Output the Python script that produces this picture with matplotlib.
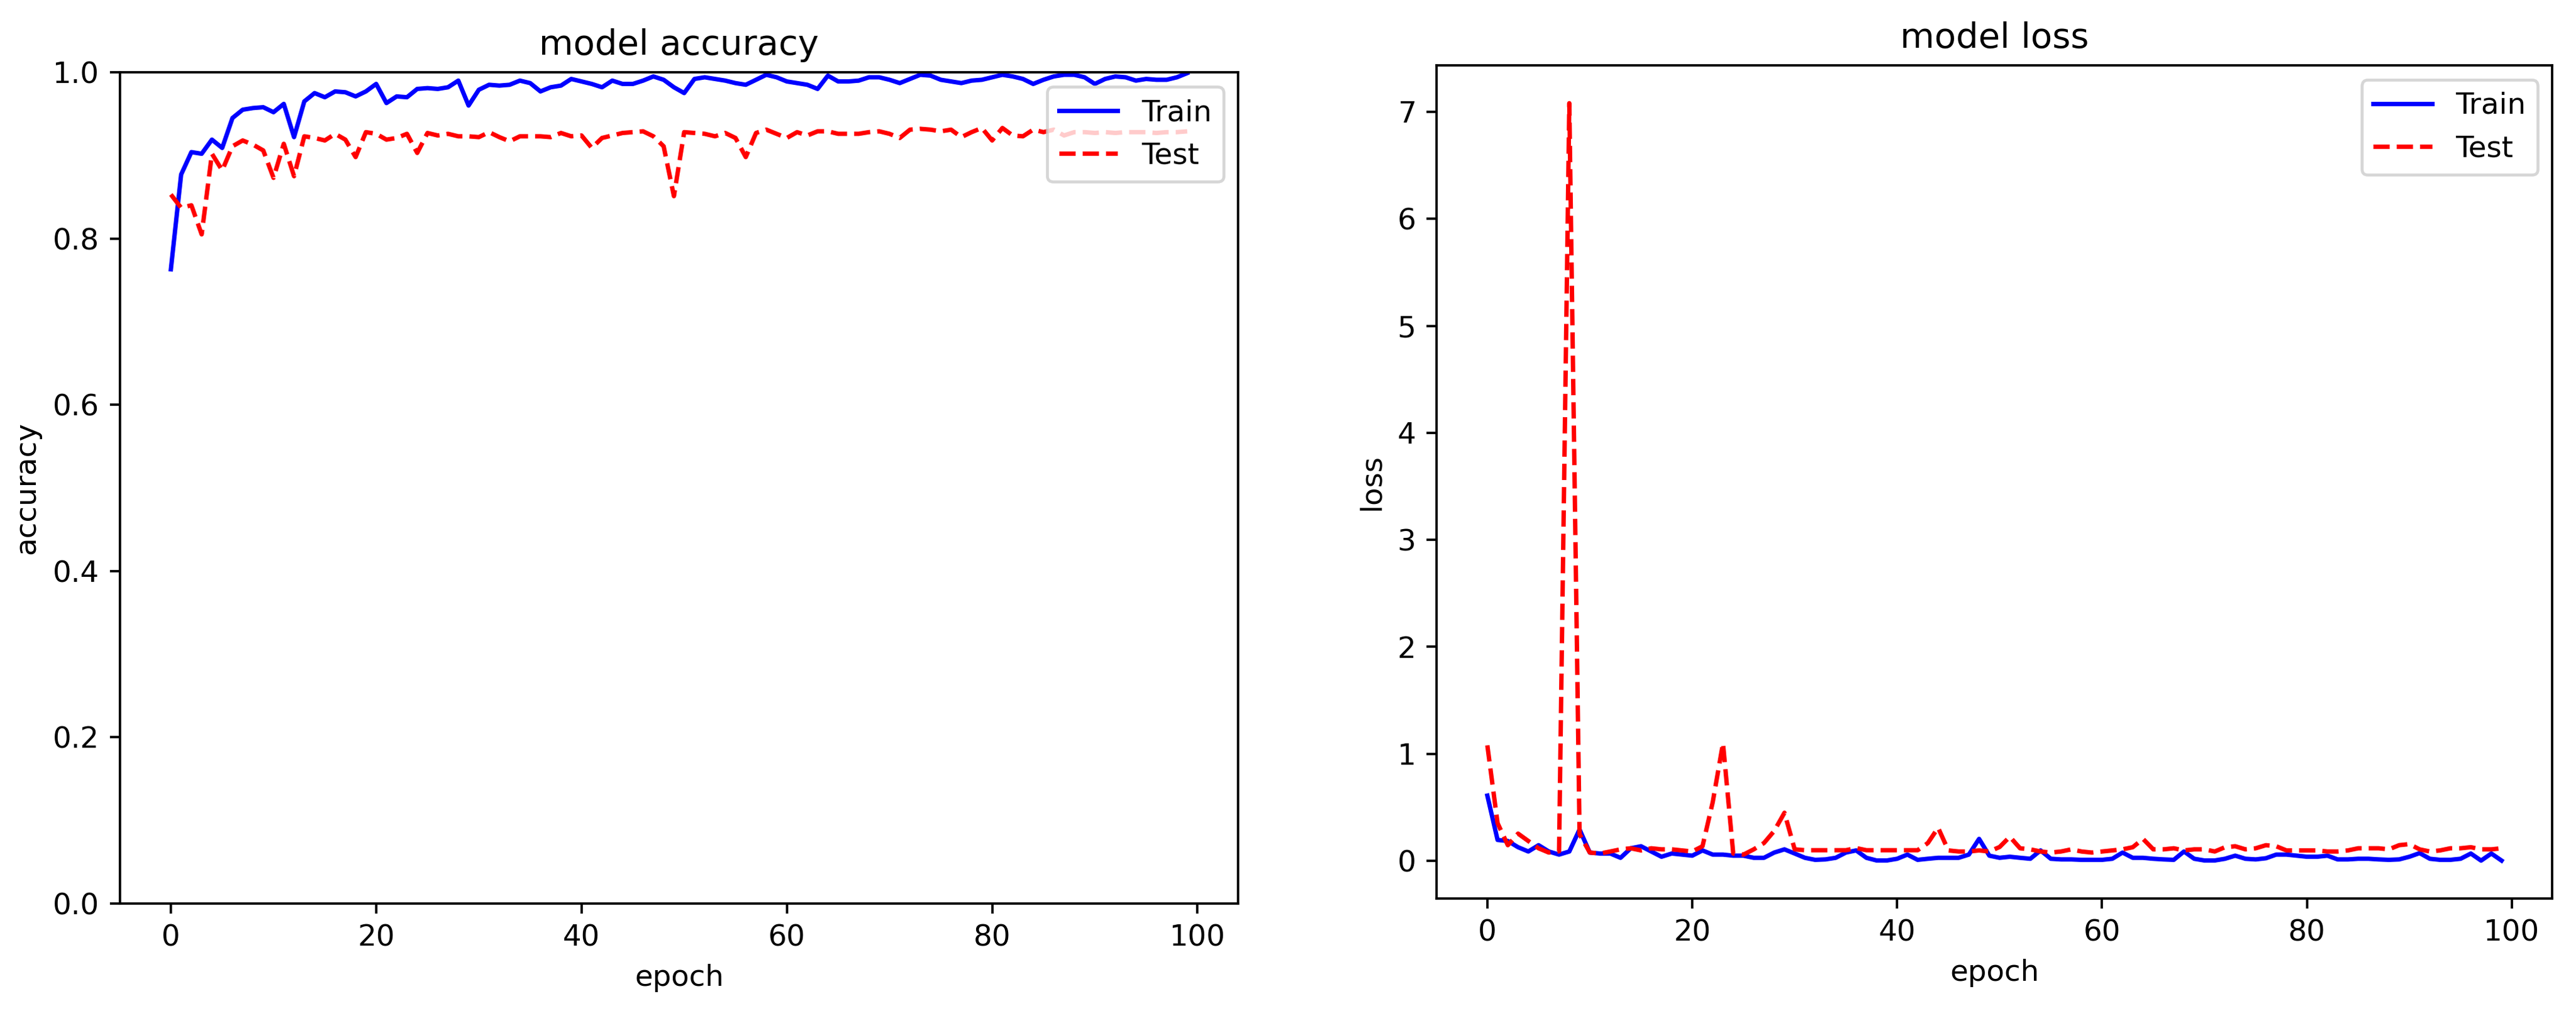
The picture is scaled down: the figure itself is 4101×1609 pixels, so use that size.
import matplotlib
matplotlib.use('Agg')
import matplotlib.pyplot as plt

# training history (100 epochs)
epochs = list(range(100))

train_acc = [0.763, 0.877, 0.904, 0.902, 0.919, 0.909, 0.945, 0.955, 0.957, 0.958,
             0.952, 0.962, 0.922, 0.965, 0.975, 0.970, 0.977, 0.976, 0.971, 0.977,
             0.986, 0.963, 0.971, 0.970, 0.980, 0.981, 0.980, 0.982, 0.990, 0.960,
             0.979, 0.985, 0.984, 0.985, 0.990, 0.987, 0.977, 0.982, 0.984, 0.992,
             0.989, 0.986, 0.982, 0.990, 0.986, 0.986, 0.990, 0.995, 0.991, 0.982,
             0.975, 0.992, 0.994, 0.992, 0.990, 0.987, 0.985, 0.991, 0.997, 0.994,
             0.989, 0.987, 0.985, 0.980, 0.996, 0.989, 0.989, 0.990, 0.994, 0.994,
             0.991, 0.987, 0.992, 0.997, 0.996, 0.991, 0.989, 0.987, 0.990, 0.991,
             0.994, 0.997, 0.995, 0.992, 0.986, 0.991, 0.995, 0.997, 0.997, 0.994,
             0.986, 0.992, 0.995, 0.994, 0.990, 0.992, 0.991, 0.991, 0.994, 0.999]

test_acc = [0.853, 0.837, 0.840, 0.805, 0.902, 0.882, 0.911, 0.918, 0.913, 0.906,
            0.873, 0.914, 0.875, 0.923, 0.921, 0.918, 0.926, 0.919, 0.898, 0.928,
            0.926, 0.919, 0.921, 0.926, 0.903, 0.927, 0.924, 0.926, 0.923, 0.923,
            0.922, 0.928, 0.922, 0.917, 0.923, 0.923, 0.923, 0.922, 0.927, 0.923,
            0.924, 0.909, 0.921, 0.924, 0.927, 0.928, 0.929, 0.923, 0.911, 0.851,
            0.928, 0.927, 0.926, 0.923, 0.927, 0.921, 0.898, 0.927, 0.931, 0.926,
            0.921, 0.928, 0.924, 0.929, 0.929, 0.926, 0.926, 0.926, 0.928, 0.929,
            0.926, 0.921, 0.931, 0.932, 0.931, 0.929, 0.931, 0.922, 0.928, 0.933,
            0.918, 0.933, 0.924, 0.923, 0.931, 0.928, 0.931, 0.924, 0.928, 0.928,
            0.927, 0.928, 0.927, 0.928, 0.928, 0.928, 0.927, 0.928, 0.928, 0.929]

train_loss = [0.610, 0.196, 0.186, 0.128, 0.088, 0.147, 0.088, 0.059, 0.088, 0.294,
              0.078, 0.069, 0.069, 0.029, 0.118, 0.137, 0.088, 0.039, 0.069, 0.059,
              0.049, 0.098, 0.059, 0.059, 0.049, 0.049, 0.029, 0.029, 0.078, 0.108,
              0.069, 0.029, 0.010, 0.014, 0.029, 0.078, 0.098, 0.029, 0.004, 0.004,
              0.020, 0.059, 0.010, 0.020, 0.029, 0.029, 0.029, 0.059, 0.206, 0.049,
              0.029, 0.039, 0.029, 0.020, 0.098, 0.020, 0.014, 0.014, 0.010, 0.010,
              0.010, 0.020, 0.078, 0.029, 0.029, 0.020, 0.014, 0.010, 0.088, 0.020,
              0.004, 0.004, 0.020, 0.049, 0.020, 0.014, 0.025, 0.059, 0.059, 0.049,
              0.039, 0.039, 0.049, 0.014, 0.014, 0.020, 0.020, 0.014, 0.010, 0.014,
              0.039, 0.073, 0.020, 0.010, 0.010, 0.020, 0.069, 0.003, 0.069, 0.003]

test_loss = [1.080, 0.353, 0.147, 0.255, 0.186, 0.118, 0.078, 0.090, 7.080, 0.250,
             0.078, 0.069, 0.088, 0.108, 0.118, 0.098, 0.118, 0.108, 0.108, 0.098,
             0.088, 0.137, 0.550, 1.100, 0.069, 0.059, 0.108, 0.167, 0.280, 0.450,
             0.108, 0.100, 0.100, 0.100, 0.100, 0.100, 0.120, 0.100, 0.100, 0.100,
             0.100, 0.100, 0.100, 0.167, 0.310, 0.098, 0.088, 0.088, 0.098, 0.088,
             0.130, 0.226, 0.118, 0.108, 0.088, 0.078, 0.088, 0.108, 0.088, 0.078,
             0.088, 0.098, 0.108, 0.128, 0.206, 0.108, 0.108, 0.118, 0.098, 0.108,
             0.108, 0.088, 0.128, 0.137, 0.108, 0.118, 0.147, 0.137, 0.098, 0.098,
             0.098, 0.098, 0.088, 0.088, 0.098, 0.118, 0.118, 0.118, 0.108, 0.147,
             0.157, 0.108, 0.088, 0.098, 0.118, 0.118, 0.128, 0.108, 0.108, 0.118]

dpi = 336
fig = plt.figure(figsize=(4101 / dpi, 1609 / dpi), dpi=dpi)

# accuracy on the left
ax1 = fig.add_axes([0.0466, 0.1063, 0.4340, 0.8222])
ax1.plot(epochs, train_acc, 'b-', label='Train')
ax1.plot(epochs, test_acc, 'r--', label='Test')
ax1.set_ylim(0, 1)
ax1.set_title('model accuracy')
ax1.set_ylabel('accuracy')
ax1.set_xlabel('epoch')
ax1.legend(loc='upper right')

# loss on the right
ax2 = fig.add_axes([0.5577, 0.1113, 0.4331, 0.8241])
ax2.plot(epochs, train_loss, 'b-', label='Train')
ax2.plot(epochs, test_loss, 'r--', label='Test')
ax2.set_title('model loss')
ax2.set_ylabel('loss')
ax2.set_xlabel('epoch')
ax2.legend(loc='upper right')

fig.savefig('out.png', dpi=dpi)
